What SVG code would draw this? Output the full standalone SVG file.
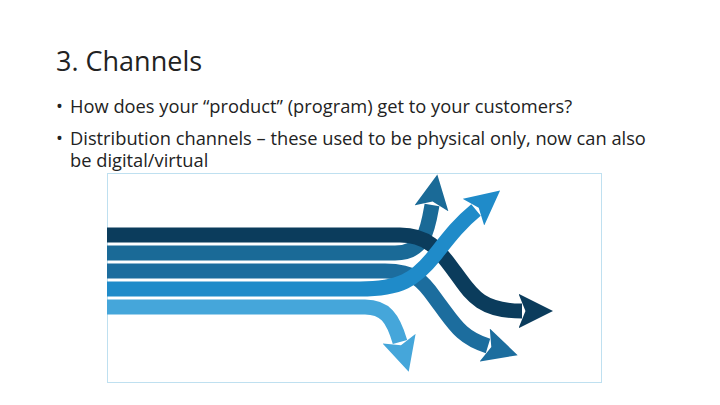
<svg xmlns="http://www.w3.org/2000/svg" width="720" height="405" viewBox="0 0 720 405">
<style>
text{font-family:"Open Sans","Liberation Sans",sans-serif;fill:#222}
.t{font-size:27px}
.b{font-size:18.3px}
.s{fill:none;stroke-width:15;stroke-linecap:butt;stroke-linejoin:round}
</style>
<defs>
<marker id="m1" viewBox="0 0 10 10" refX="1" refY="5" markerWidth="2.3" markerHeight="2.3" orient="auto"><path d="M0,0 L10,5 L0,10 L2,5Z" fill="#0b3c5c"/></marker>
<marker id="m2" viewBox="0 0 10 10" refX="1" refY="5" markerWidth="2.3" markerHeight="2.3" orient="auto"><path d="M0,0 L10,5 L0,10 L2,5Z" fill="#1a6a97"/></marker>
<marker id="m3" viewBox="0 0 10 10" refX="1" refY="5" markerWidth="2.3" markerHeight="2.3" orient="auto"><path d="M0,0 L10,5 L0,10 L2,5Z" fill="#1c6d9e"/></marker>
<marker id="m4" viewBox="0 0 10 10" refX="1" refY="5" markerWidth="2.3" markerHeight="2.3" orient="auto"><path d="M0,0 L10,5 L0,10 L2,5Z" fill="#1f8bc9"/></marker>
<marker id="m5" viewBox="0 0 10 10" refX="1" refY="5" markerWidth="2.3" markerHeight="2.3" orient="auto"><path d="M0,0 L10,5 L0,10 L2,5Z" fill="#45a6da"/></marker>
</defs>
<g id="title"><text class="t" x="56" y="71">3. Channels</text></g>
<g id="bullets">
<text class="b" x="56" y="113">•</text><text class="b" x="70" y="113">How does your “product” (program) get to your customers?</text>
<text class="b" x="56" y="145">•</text><text class="b" x="70" y="145">Distribution channels – these used to be physical only, now can also</text>
<text class="b" x="70" y="167">be digital/virtual</text>
</g>
<rect id="frame" x="107.5" y="173.5" width="494" height="209" fill="none" stroke="#bfe0f0" stroke-width="1"/>
<g id="connectors">
<path class="s" stroke="#1c6d9e" d="M107,271 H385 C420,271 425,285 440,305 C455,325 462,338 488,346" marker-end="url(#m3)"/>
<path class="s" stroke="#1a6a97" d="M107,253 H395 C425,253 428,228 432,205" marker-end="url(#m2)"/>
<path class="s" stroke="#0b3c5c" d="M107,235 H400 C430,235 440,252 455,272 C470,292 478,311 522,311" marker-end="url(#m1)"/>
<path class="s" stroke="#1f8bc9" d="M107,289 H360 C400,289 415,280 435,255 C450,236 460,223 476,210" marker-end="url(#m4)"/>
<path class="s" stroke="#45a6da" d="M107,307 H365 C385,307 393,318 400,342" marker-end="url(#m5)"/>
</g>
</svg>
